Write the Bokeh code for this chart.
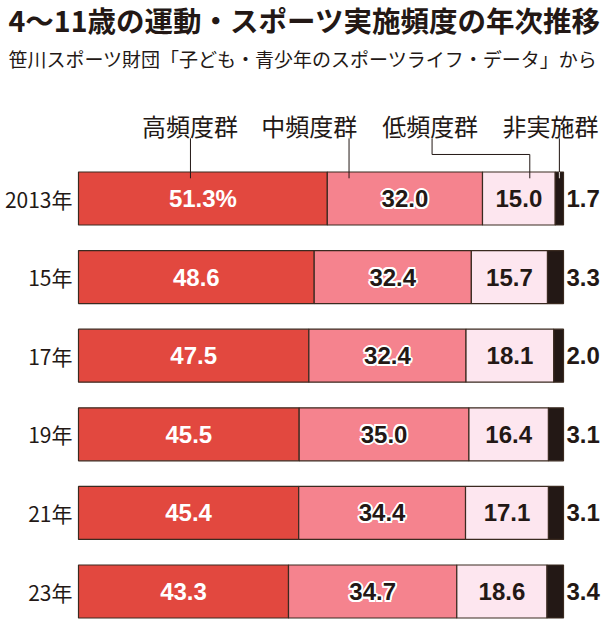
from bokeh.plotting import figure
from bokeh.models import Range1d, Label, ColumnDataSource
from bokeh.core.properties import value
from bokeh.embed import file_html
from bokeh.resources import INLINE

# ---- data ----
years = ["2013年", "15年", "17年", "19年", "21年", "23年"]
high = [51.3, 48.6, 47.5, 45.5, 45.4, 43.3]
mid = [32.0, 32.4, 32.4, 35.0, 34.4, 34.7]
low = [15.0, 15.7, 18.1, 16.4, 17.1, 18.6]
none_ = [1.7, 3.3, 2.0, 3.1, 3.1, 3.4]
series_names = ["高頻度群", "中頻度群", "低頻度群", "非実施群"]
title_text = "4～11歳の運動・スポーツ実施頻度の年次推移"
subtitle_text = "笹川スポーツ財団「子ども・青少年のスポーツライフ・データ」から"

# ---- style ----
C_HIGH = "#E2483F"
C_MID = "#F5838E"
C_LOW = "#FDE6EF"
C_NONE = "#231815"
INK = "#231815"
EDGE = "#3a2a20"
JP = value("Noto Sans CJK JP")
NUM = value("Liberation Sans")

W, H = 602, 632
PX = 4.85           # px per percent
X0 = 78             # px of 0%
ROW = 78.6          # px per row
Y0 = 198            # px of first row centre (from top)

p = figure(width=W, height=H, output_backend="svg", toolbar_location=None,
           x_range=Range1d(-X0 / PX, (W - X0) / PX),
           y_range=Range1d((H - Y0) / ROW, -Y0 / ROW),
           x_axis_location=None, y_axis_location=None,
           min_border=0, background_fill_color="white",
           border_fill_color="white", outline_line_color=None)
p.xgrid.visible = False
p.ygrid.visible = False

n = len(years)
idx = list(range(n))
c1 = high
c2 = [a + b for a, b in zip(high, mid)]
c3 = [a + b for a, b in zip(c2, low)]
c4 = [a + b for a, b in zip(c3, none_)]

src = ColumnDataSource(dict(
    y=idx, years=years,
    h0=[0] * n, h1=c1, m1=c2, l1=c3, n1=c4,
    hx=[v / 2 for v in high],
    mx=[a + b / 2 for a, b in zip(c1, mid)],
    lx=[a + b / 2 for a, b in zip(c2, low)],
    hl=[f"{v:.1f}%" if i == 0 else f"{v:.1f}" for i, v in enumerate(high)],
    ml=[f"{v:.1f}" for v in mid],
    ll=[f"{v:.1f}" for v in low],
    nl=[f"{v:.1f}" for v in none_],
))

BH = 53 / ROW
p.hbar(y="y", left="h0", right="h1", height=BH, source=src, fill_color=C_HIGH, line_color=EDGE, line_width=1.2)
p.hbar(y="y", left="h1", right="m1", height=BH, source=src, fill_color=C_MID, line_color=EDGE, line_width=1.2)
p.hbar(y="y", left="m1", right="l1", height=BH, source=src, fill_color=C_LOW, line_color=EDGE, line_width=1.2)
p.hbar(y="y", left="l1", right="n1", height=BH, source=src, fill_color=C_NONE, line_color=EDGE, line_width=1.2)

# value labels
p.text(x="hx", y="y", text="hl", source=src, text_align="center", text_baseline="middle",
       text_font=NUM, text_font_style="bold", text_font_size="24px", text_color="white")
# white halo behind the mid-group labels
for dx, dy in [(-2, 0), (2, 0), (0, -2), (0, 2), (-1.5, -1.5), (1.5, -1.5), (-1.5, 1.5), (1.5, 1.5)]:
    p.text(x="mx", y="y", text="ml", source=src, x_offset=dx, y_offset=dy,
           text_align="center", text_baseline="middle",
           text_font=NUM, text_font_style="bold", text_font_size="24px", text_color="white")
p.text(x="mx", y="y", text="ml", source=src, text_align="center", text_baseline="middle",
       text_font=NUM, text_font_style="bold", text_font_size="24px", text_color=INK)
p.text(x="lx", y="y", text="ll", source=src, text_align="center", text_baseline="middle",
       text_font=NUM, text_font_style="bold", text_font_size="24px", text_color=INK)
p.text(x="n1", y="y", text="nl", source=src, x_offset=3, text_align="left", text_baseline="middle",
       text_font=NUM, text_font_style="bold", text_font_size="24px", text_color=INK)

# year labels
p.text(x="h0", y="y", text="years", source=src, x_offset=-6, text_align="right", text_baseline="middle",
       text_font=JP, text_font_size="21px", text_color=INK)

# legend labels + leader lines (anchored to first row)
bar_top = -BH / 2
y_lab = -0.93
y_line_top = -0.765
y_elbow = -0.56
y_line_bot = bar_top + 0.08
lab_x = [23.0, 47.6, 72.5, 97.3]
p.text(x=lab_x, y=[y_lab] * 4, text=series_names, text_align="center", text_baseline="middle",
       text_font=JP, text_font_size="24px", text_color=INK)

ax_high = 0.45 * high[0]
ax_mid = c1[0] + 0.14 * mid[0]
ax_low = c2[0] + 0.65 * low[0]
ax_none = c3[0] + 0.5 * none_[0]
ax_low_top = 72.9
p.line([ax_high, ax_high], [y_line_top, y_line_bot], line_color=INK, line_width=1)
p.line([ax_mid, ax_mid], [y_line_top, y_line_bot], line_color=INK, line_width=1)
p.line([ax_low_top, ax_low_top, ax_low, ax_low], [y_line_top, y_elbow, y_elbow, y_line_bot],
       line_color=INK, line_width=1)
p.line([ax_none, ax_none], [y_line_top, y_line_bot], line_color="#e8e0dc", line_width=1)
p.line([ax_none, ax_none], [y_line_top, bar_top], line_color=INK, line_width=1)

# title + subtitle
p.add_layout(Label(x=8, y=H - 19, x_units="screen", y_units="screen", text=title_text,
                   text_font="Noto Sans CJK JP", text_font_style="bold", text_font_size="28.5px",
                   text_color=INK, text_baseline="middle"))
p.add_layout(Label(x=8, y=H - 58, x_units="screen", y_units="screen", text=subtitle_text,
                   text_font="Noto Sans CJK JP", text_font_size="19px",
                   text_color=INK, text_baseline="middle"))

open("out.html", "w").write(file_html(p, INLINE))
